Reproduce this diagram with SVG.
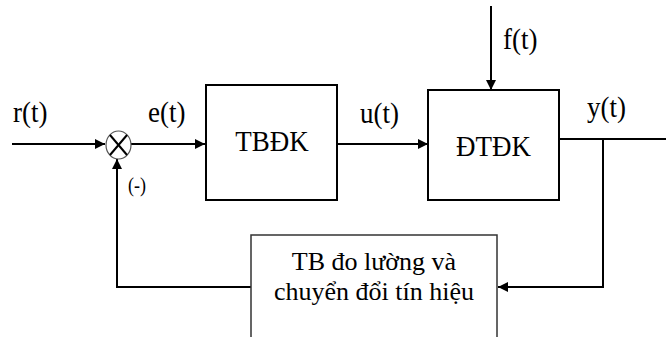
<svg xmlns="http://www.w3.org/2000/svg" width="666" height="337" viewBox="0 0 666 337">
<defs>
<style>
.box{fill:#fff;stroke:#000;stroke-width:2}
.fb{fill:#fff;stroke:#333;stroke-width:1.5}
.ln{fill:none;stroke:#000;stroke-width:2}
text{font-family:"Liberation Serif","Times New Roman","DejaVu Serif",serif;fill:#000}
.lbl{font-size:27px}
.fbt{font-size:26px}
.sm{font-size:18px}
</style>
<marker id="arr" viewBox="0 0 10 10" refX="10" refY="5" markerWidth="11" markerHeight="10" markerUnits="userSpaceOnUse" orient="auto">
<path d="M0,0 L10,5 L0,10 z" fill="#000"/>
</marker>
</defs>
<rect width="666" height="337" fill="#fff"/>
<g id="connectors">
<line class="ln" x1="12" y1="144" x2="105" y2="144" marker-end="url(#arr)"/>
<line class="ln" x1="131" y1="144" x2="205" y2="144" marker-end="url(#arr)"/>
<line class="ln" x1="337" y1="144" x2="428" y2="144" marker-end="url(#arr)"/>
<line class="ln" x1="491" y1="6" x2="491" y2="90" marker-end="url(#arr)"/>
<line class="ln" x1="559" y1="139" x2="666" y2="139"/>
<polyline class="ln" points="603,139 603,287 498,287" marker-end="url(#arr)"/>
<polyline class="ln" points="251,287 117,287 117,159" marker-end="url(#arr)"/>
</g>
<g id="sum">
<ellipse cx="118.5" cy="145" rx="12.5" ry="14" fill="#fff" stroke="#555" stroke-width="1.2"/>
<line x1="110" y1="135" x2="127" y2="155" stroke="#000" stroke-width="2"/>
<line x1="127" y1="135" x2="110" y2="155" stroke="#000" stroke-width="2"/>
</g>
<g id="tbdk">
<rect class="box" x="206" y="85" width="131" height="115"/>
<text class="lbl" text-anchor="middle" transform="translate(272,151) scale(1,1.12)">TBĐK</text>
</g>
<g id="dtdk">
<rect class="box" x="428" y="90" width="131" height="110"/>
<text class="lbl" text-anchor="middle" transform="translate(493.5,156) scale(1,1.12)">ĐTĐK</text>
</g>
<g id="feedback">
<rect class="fb" x="251" y="235" width="246" height="115"/>
<text class="fbt" text-anchor="middle" x="374" y="270">TB đo lường và</text>
<text class="fbt" text-anchor="middle" x="374" y="300">chuyển đổi tín hiệu</text>
</g>
<g id="labels">
<text class="lbl" transform="translate(13,122) scale(1,1.12)">r(t)</text>
<text class="lbl" transform="translate(148,122) scale(1,1.12)">e(t)</text>
<text class="lbl" transform="translate(360,123) scale(1,1.12)">u(t)</text>
<text class="lbl" transform="translate(503,49) scale(1,1.12)">f(t)</text>
<text class="lbl" transform="translate(587,117) scale(1,1.12)">y(t)</text>
<text class="sm" transform="translate(128,192) scale(1,1.12)">(-)</text>
</g>
</svg>
